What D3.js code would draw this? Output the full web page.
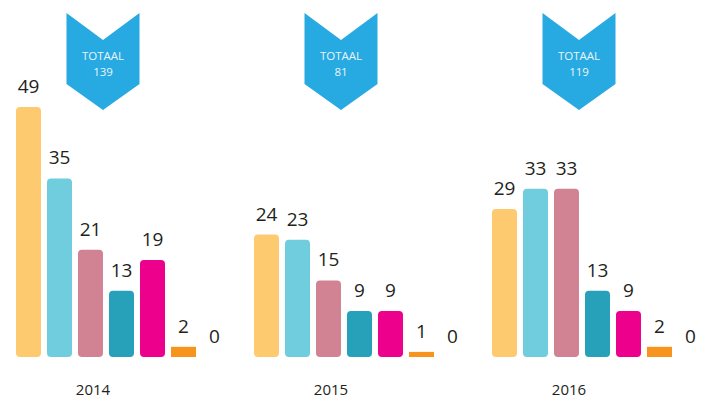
<!DOCTYPE html>
<html>
<head>
<meta charset="utf-8">
<script src="https://cdn.jsdelivr.net/npm/d3@7"></script>
<style>
  html, body { margin: 0; padding: 0; background: #ffffff; }
  svg { display: block; }
</style>
</head>
<body>
<svg id="chart" width="707" height="400"></svg>
<script>
// Yearly counts per category; the seventh category is zero every year.
const years = ["2014", "2015", "2016"];
const categories = ["c1", "c2", "c3", "c4", "c5", "c6", "c7"];
const values2014 = [49, 35, 21, 13, 19, 2, 0];
const values2015 = [24, 23, 15, 9, 9, 1, 0];
const values2016 = [29, 33, 33, 13, 9, 2, 0];
const totalLabel = "TOTAAL";

const colors = ["#fdca70", "#70cddd", "#d18393", "#26a1b9", "#ec008c", "#f7941d", "#f7941d"];
const bannerColor = "#27a9e1";

const seriesByYear = { "2014": values2014, "2015": values2015, "2016": values2016 };

const svg = d3.select("#chart");
const baseline = 357;

// group (year) positions and category positions inside a group
const xGroup = d3.scaleBand().domain(years).range([16, 16 + 238 * years.length]);
const xCat = d3.scaleBand().domain(categories).range([0, 211]).paddingInner(0.194);
const maxVal = d3.max([...values2014, ...values2015, ...values2016]);
const y = d3.scaleLinear().domain([0, maxVal]).range([baseline, baseline - 250]);
const color = d3.scaleOrdinal().domain(categories).range(colors);

const groups = svg.selectAll("g.year")
  .data(years)
  .join("g")
  .attr("class", "year")
  .attr("transform", d => `translate(${xGroup(d)},0)`);

// bars
groups.selectAll("rect.bar")
  .data(yr => seriesByYear[yr].map((v, i) => ({ cat: categories[i], value: v })))
  .join("rect")
  .attr("class", "bar")
  .attr("x", d => xCat(d.cat))
  .attr("width", xCat.bandwidth())
  .attr("y", d => y(d.value))
  .attr("height", d => baseline - y(d.value))
  .attr("rx", d => (baseline - y(d.value)) > 20 ? 4 : 0)
  .attr("fill", d => color(d.cat));

// value labels
groups.selectAll("text.value")
  .data(yr => seriesByYear[yr].map((v, i) => ({ cat: categories[i], value: v })))
  .join("text")
  .attr("class", "value")
  .attr("x", d => xCat(d.cat) + xCat.bandwidth() / 2)
  .attr("y", d => y(d.value) - 14)
  .attr("text-anchor", "middle")
  .attr("font-family", "'Open Sans', sans-serif")
  .attr("font-size", 19)
  .attr("fill", "#231f20")
  .text(d => d.value);

// year labels
groups.append("text")
  .attr("x", 77)
  .attr("y", 395)
  .attr("text-anchor", "middle")
  .attr("font-family", "'Open Sans', sans-serif")
  .attr("font-size", 15)
  .attr("fill", "#231f20")
  .text(d => d);

// chevron banners with the yearly totals
const bannerW = 73, notchDepth = 27, sideLen = 71, tipLen = 97, bannerTop = 13;
const banner = groups.append("g")
  .attr("transform", `translate(87,${bannerTop})`);

banner.append("path")
  .attr("d", () => {
    const p = d3.path();
    p.moveTo(-bannerW / 2, 0);
    p.lineTo(0, notchDepth);
    p.lineTo(bannerW / 2, 0);
    p.lineTo(bannerW / 2, sideLen);
    p.lineTo(0, tipLen);
    p.lineTo(-bannerW / 2, sideLen);
    p.closePath();
    return p.toString();
  })
  .attr("fill", bannerColor);

const bannerText = banner.append("text")
  .attr("text-anchor", "middle")
  .attr("font-family", "'Open Sans', sans-serif")
  .attr("font-size", 11.5)
  .attr("fill", "#eaf5fc");

bannerText.append("tspan")
  .attr("x", 0)
  .attr("y", 47)
  .text(totalLabel);

bannerText.append("tspan")
  .attr("x", 0)
  .attr("y", 63)
  .text(d => d3.sum(seriesByYear[d]));
</script>
</body>
</html>
